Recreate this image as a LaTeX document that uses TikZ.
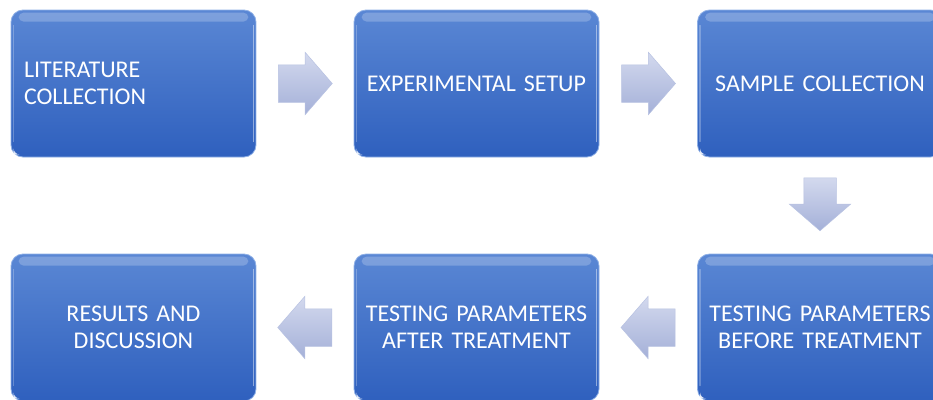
\documentclass[tikz,border=0pt]{standalone}
\usepackage{fontspec}
\setmainfont{Carlito}[WordSpace=0.45]
\usetikzlibrary{shapes.arrows,calc}
\definecolor{boxtop}{HTML}{5A87D4}
\definecolor{boxbot}{HTML}{2F60BE}
\definecolor{boxedge}{HTML}{8FB0E6}
\definecolor{arrtop}{HTML}{D3D9EE}
\definecolor{arrbot}{HTML}{A4B0D8}
\definecolor{arredge}{HTML}{B8C2E2}
\newcommand{\boxfont}{\fontsize{24}{27}\selectfont}
\begin{document}
\begin{tikzpicture}[x=1pt,y=-1pt,
  box/.style={rounded corners=12pt, minimum width=245pt, minimum height=147pt,
    inner sep=0pt, top color=boxtop, bottom color=boxbot, draw=boxedge, line width=0.8pt,
    text=white, font=\boxfont, align=center, text width=240pt},
  leftbox/.style={box, align=left, text width=219pt},
  blockarrow/.style={single arrow, inner xsep=0pt, inner ysep=18.5pt, minimum height=54pt,
    single arrow head extend=12.5pt, single arrow tip angle=98,
    top color=arrtop, bottom color=arrbot, draw=arredge, line width=0.5pt, anchor=tail},
  vblockarrow/.style={blockarrow, inner xsep=16pt, inner ysep=0pt, minimum height=53pt,
    single arrow head extend=14.5pt, shape border rotate=270},
  gloss/.style={white, opacity=0.22},
  edgeshine/.style={white, opacity=0.45, line width=1.6pt, line cap=round}
]
\useasboundingbox (0,0) rectangle (933,399);
\fill[white] (0,0) rectangle (933,399);

\node[leftbox] (b1) at (133.5,83.5) {LITERATURE\\COLLECTION};
\node[box] (b2) at (476.5,83.5) {EXPERIMENTAL SETUP};
\node[box] (b3) at (820,83.5) {SAMPLE COLLECTION};
\node[box] (b4) at (820,327.5) {TESTING PARAMETERS\\BEFORE TREATMENT};
\node[box] (b5) at (476.5,327.5) {TESTING PARAMETERS\\AFTER TREATMENT};
\node[box] (b6) at (133.5,327.5) {RESULTS AND\\DISCUSSION};

\foreach \n in {b1,b2,b3,b4,b5,b6}{
  \fill[gloss, rounded corners=5pt] ($(\n.north west)+(8,3)$) rectangle ($(\n.north east)+(-8,12)$);
  \draw[edgeshine] ($(\n.north east)+(-3,16)$) -- ($(\n.south east)+(-3,-16)$);
  \draw[edgeshine, opacity=0.25] ($(\n.north west)+(3,16)$) -- ($(\n.south west)+(3,-16)$);
  \fill[white, opacity=0.8] ($(\n.south west)+(3,-3)$) -- ($(\n.south west)+(3,-9)$) arc[start angle=180, end angle=270, radius=6pt] -- cycle;
}

\node[blockarrow] (a1) at ($(b1.east)!0.5!(b2.west)+(-27,0)$) {};
\node[blockarrow] (a2) at ($(b2.east)!0.5!(b3.west)+(-27,0)$) {};
\node[vblockarrow] (a3) at ($(b3.south)!0.5!(b4.north)+(0,-28)$) {};
\node[blockarrow, shape border rotate=180] (a4) at ($(b4.west)!0.5!(b5.east)+(27,0)$) {};
\node[blockarrow, shape border rotate=180] (a5) at ($(b5.west)!0.5!(b6.east)+(27,0)$) {};
\end{tikzpicture}
\end{document}
